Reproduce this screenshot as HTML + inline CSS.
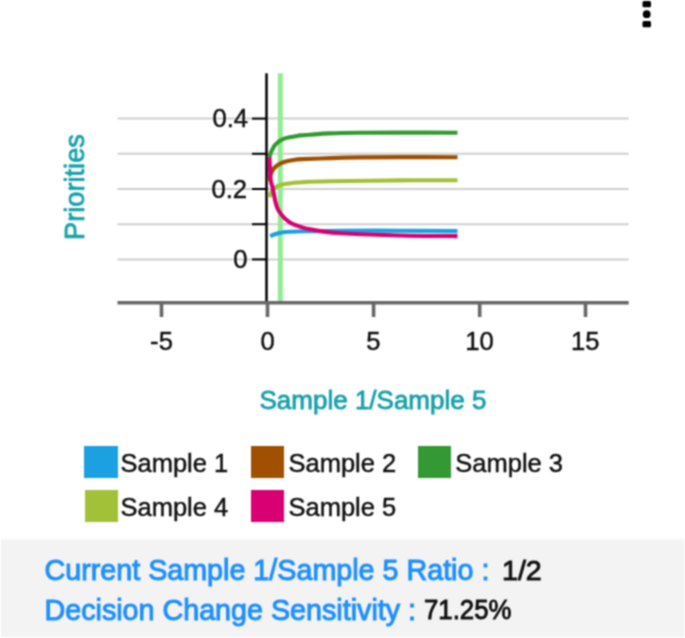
<!DOCTYPE html>
<html><head><meta charset="utf-8">
<style>
html,body{margin:0;padding:0;background:#fff;}
body{width:685px;height:638px;position:relative;overflow:hidden;font-family:"Liberation Sans",sans-serif;}
.t{position:absolute;white-space:nowrap;line-height:1;}
.tick{font-size:25.6px;color:#111;-webkit-text-stroke:0.45px #111;}
.ttl{font-size:25.5px;color:#1aa1ab;-webkit-text-stroke:0.8px #1aa1ab;}
.lg{font-size:25.5px;color:#111;-webkit-text-stroke:0.45px #111;}
.sq{position:absolute;width:33.2px;height:32.2px;}
#panel{position:absolute;left:1px;top:538px;width:683px;height:99px;background:#f3f3f3;box-sizing:border-box;border-top:2px solid #f9f9f9;}
.pl{font-size:28.7px;color:#1e90ff;-webkit-text-stroke:1px #1e90ff;}
.pv{font-size:26.5px;color:#111;-webkit-text-stroke:0.9px #111;transform-origin:0 0;}
svg{position:absolute;left:0;top:0;}
#w{position:absolute;left:0;top:0;width:685px;height:638px;filter:url(#bl);}
</style></head>
<body>
<svg width="0" height="0" style="position:absolute;left:0;top:0"><filter id="bl" x="0" y="0" width="100%" height="100%" color-interpolation-filters="sRGB"><feConvolveMatrix order="3" kernelMatrix="1 2 1 2 4 2 1 2 1" divisor="16" edgeMode="duplicate"/></filter></svg>
<div id="w">
<svg width="685" height="638" viewBox="0 0 685 638">
  <!-- gridlines -->
  <g stroke="#cfcfcf" stroke-width="2">
    <line x1="117.5" y1="118.6" x2="628.7" y2="118.6"/>
    <line x1="117.5" y1="153.8" x2="628.7" y2="153.8"/>
    <line x1="117.5" y1="189" x2="628.7" y2="189"/>
    <line x1="117.5" y1="224.2" x2="628.7" y2="224.2"/>
    <line x1="117.5" y1="259.4" x2="628.7" y2="259.4"/>
  </g>
  <!-- current ratio marker -->
  <line x1="280.3" y1="73.3" x2="280.3" y2="301" stroke="#90ee90" stroke-width="5"/>
  <!-- y ticks -->
  <g stroke="#000" stroke-width="2">
    <line x1="252" y1="118.6" x2="266.5" y2="118.6"/>
    <line x1="252" y1="153.8" x2="266.5" y2="153.8"/>
    <line x1="252" y1="189" x2="266.5" y2="189"/>
    <line x1="252" y1="224.2" x2="266.5" y2="224.2"/>
    <line x1="252" y1="259.4" x2="266.5" y2="259.4"/>
  </g>
  <!-- y axis -->
  <line x1="266.5" y1="73.3" x2="266.5" y2="302" stroke="#000" stroke-width="2.5"/>
  <!-- x axis -->
  <g stroke="#686868" stroke-width="3.6">
    <line x1="117.5" y1="302.7" x2="628.7" y2="302.7"/>
    <line x1="161.5" y1="302" x2="161.5" y2="317"/>
    <line x1="267.5" y1="302" x2="267.5" y2="317"/>
    <line x1="373.6" y1="302" x2="373.6" y2="317"/>
    <line x1="479.7" y1="302" x2="479.7" y2="317"/>
    <line x1="585.5" y1="302" x2="585.5" y2="317"/>
  </g>
  <!-- curves -->
  <g fill="none" stroke-width="4.1" stroke-linejoin="round" stroke-linecap="butt">
    <path stroke="#339933" d="M269.4,157.2 C269.5,156.7 269.9,155.2 270.3,154.0 C270.7,152.8 271.2,151.6 272.0,150.1 C272.8,148.6 273.9,146.4 275.0,145.0 C276.1,143.6 277.3,142.7 278.6,141.7 C279.9,140.7 281.2,139.8 283.0,139.1 C284.8,138.4 287.2,137.8 289.5,137.3 C291.8,136.8 294.4,136.3 296.8,135.9 C299.2,135.5 301.2,135.3 304.1,135.1 C307.0,134.8 309.9,134.7 314.0,134.4 C318.1,134.1 321.3,133.7 329.0,133.4 C336.7,133.1 348.2,132.9 360.0,132.8 C371.8,132.7 383.8,132.6 400.0,132.6 C416.2,132.6 447.9,132.7 457.5,132.7"/>
    <path stroke="#a05000" d="M268.7,181.0 C269.0,180.0 269.9,176.8 270.5,175.0 C271.1,173.2 271.8,171.8 272.5,170.5 C273.2,169.2 274.1,168.2 275.0,167.3 C275.9,166.4 276.2,166.0 277.7,165.1 C279.2,164.2 281.4,162.8 284.0,162.0 C286.6,161.2 290.3,160.5 293.3,160.0 C296.3,159.5 295.9,159.4 302.0,159.1 C308.1,158.8 320.7,158.4 330.0,158.1 C339.3,157.8 346.3,157.6 358.0,157.4 C369.7,157.2 383.4,157.1 400.0,157.1 C416.6,157.1 447.9,157.2 457.5,157.2"/>
    <path stroke="#a2c139" d="M269.2,197.0 C269.7,196.0 270.8,192.7 272.0,191.0 C273.2,189.3 274.9,187.7 276.7,186.6 C278.5,185.5 279.8,185.0 282.7,184.4 C285.6,183.8 290.8,183.2 294.0,182.8 C297.2,182.4 296.2,182.4 302.0,182.2 C307.8,181.9 312.7,181.6 329.0,181.3 C345.3,181.0 378.6,180.6 400.0,180.4 C421.4,180.2 447.9,180.3 457.5,180.3"/>
    <path stroke="#1ba1e2" d="M270.4,236.6 C270.8,236.3 271.6,235.5 272.5,235.1 C273.4,234.7 274.2,234.3 275.7,233.9 C277.2,233.5 279.1,232.9 281.5,232.6 C283.9,232.2 286.6,232.0 290.3,231.8 C294.1,231.6 295.4,231.5 304.0,231.3 C312.6,231.1 326.0,230.8 342.0,230.7 C358.0,230.6 380.8,230.6 400.0,230.7 C419.2,230.8 447.9,231.0 457.5,231.1"/>
    <path stroke="#d80073" d="M269.4,157.2 C269.5,158.5 269.6,161.2 269.8,165.0 C270.0,168.8 270.2,176.3 270.7,180.0 C271.1,183.7 272.0,184.8 272.5,187.1 C273.0,189.4 273.4,191.8 273.9,194.1 C274.4,196.4 274.7,198.8 275.3,201.2 C275.9,203.5 276.5,206.1 277.4,208.2 C278.3,210.3 279.6,212.1 280.9,213.9 C282.2,215.7 283.5,217.3 285.2,218.8 C286.9,220.3 288.8,221.9 290.8,223.0 C292.8,224.1 294.0,224.6 297.0,225.6 C300.0,226.6 304.8,228.2 308.7,229.1 C312.6,230.0 314.8,230.4 320.4,231.1 C325.9,231.8 328.7,232.6 342.0,233.3 C355.3,234.0 380.8,235.0 400.0,235.5 C419.2,236.0 447.9,236.0 457.5,236.1"/>
  </g>
  <!-- menu dots -->
  <g fill="#000">
    <rect x="642.5" y="1" width="8.5" height="6.3" rx="1.5"/>
    <circle cx="646.7" cy="14.2" r="3.9"/>
    <rect x="642.5" y="21" width="8.5" height="6.3" rx="1.5"/>
  </g>
</svg>

<!-- y tick labels -->
<div class="t tick" style="right:437px;top:105.5px;">0.4</div>
<div class="t tick" style="right:438px;top:176.5px;">0.2</div>
<div class="t tick" style="right:437.5px;top:247px;">0</div>
<!-- x tick labels -->
<div class="t tick" style="left:161.5px;top:328.8px;transform:translateX(-50%);">-5</div>
<div class="t tick" style="left:267.6px;top:328.8px;transform:translateX(-50%);">0</div>
<div class="t tick" style="left:373.3px;top:328.8px;transform:translateX(-50%);">5</div>
<div class="t tick" style="left:479.6px;top:328.8px;transform:translateX(-50%);">10</div>
<div class="t tick" style="left:585.3px;top:328.8px;transform:translateX(-50%);">15</div>

<!-- axis titles -->
<div class="t ttl" style="left:74.5px;top:187px;transform:translate(-50%,-50%) rotate(-90deg);font-size:27.2px;">Priorities</div>
<div class="t ttl" style="left:259.5px;top:386.7px;font-size:26px;">Sample 1/Sample 5</div>

<!-- legend -->
<div class="sq" style="left:84.4px;top:445.8px;background:#1ba1e2;"></div>
<div class="sq" style="left:251.3px;top:445.8px;background:#a05000;"></div>
<div class="sq" style="left:418px;top:445.8px;background:#339933;"></div>
<div class="sq" style="left:84.5px;top:489.8px;background:#a2c139;"></div>
<div class="sq" style="left:251.3px;top:489.8px;background:#d80073;"></div>
<div class="t lg" style="left:120.5px;top:450.5px;">Sample 1</div>
<div class="t lg" style="left:288.5px;top:450.5px;">Sample 2</div>
<div class="t lg" style="left:455.3px;top:450.5px;">Sample 3</div>
<div class="t lg" style="left:120.5px;top:494.5px;">Sample 4</div>
<div class="t lg" style="left:288.5px;top:494.5px;">Sample 5</div>

<!-- bottom panel -->
<div id="panel"></div>
<div class="t pl" style="left:44.5px;top:555.5px;">Current Sample 1/Sample 5 Ratio :</div>
<div class="t pv" style="left:502px;top:557.5px;font-size:27px;transform:scaleX(1.06);">1/2</div>
<div class="t pl" style="left:44.5px;top:595.5px;">Decision Change Sensitivity :</div>
<div class="t pv" style="left:424.3px;top:595.6px;font-size:28px;transform:scaleX(0.92);">71.25%</div>
</div>
</body></html>
